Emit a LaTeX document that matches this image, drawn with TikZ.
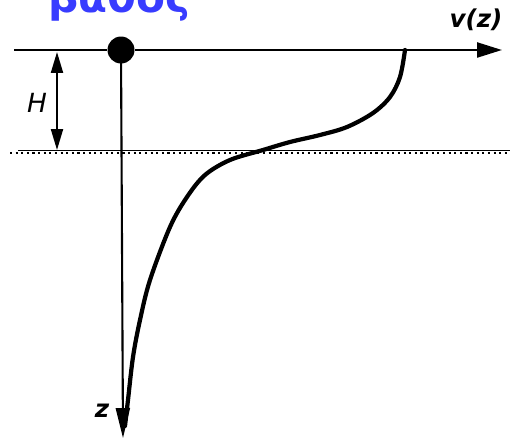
\documentclass[tikz,border=0pt]{standalone}
\usepackage{fontspec}
\usepackage{xcolor}
\usetikzlibrary{arrows.meta}
\newfontfamily\greekfont{DejaVu Sans}
\newfontfamily\labelfont{DejaVu Sans}
\definecolor{titleblue}{RGB}{56,60,255}

\begin{document}
\begin{tikzpicture}[
    x=0.02cm, y=-0.02cm,
    axis line/.style = {line width=1.3pt, -{Triangle[length=0.5cm, width=0.3cm]}},
    profile/.style = {line width=2.4pt, line cap=round},
    label text/.style = {font=\labelfont\itshape\bfseries\fontsize{14}{16}\selectfont, inner sep=0pt}
]
\useasboundingbox (0,0) rectangle (510,439);
\clip (0,0) rectangle (510,439);

% Titel (oben abgeschnitten)
\node[font=\greekfont\bfseries\fontsize{24}{28}\selectfont, text=titleblue, anchor=base west, inner sep=0pt] (title) at (48,13) {βάθος};

% --- Achsen ---
\coordinate (axisL) at (14,50);
\coordinate (axisR) at (502,50);
\coordinate (zTip) at (123,438);
\node[circle, fill=black, minimum size=0.54cm, inner sep=0pt] (src) at (121,50) {};
\draw[line width=1.3pt] (axisL) -- (src);
\draw[axis line] (src) -- (axisR);
\draw[line width=1.2pt, -{Triangle[length=0.6cm, width=0.28cm]}] (src.center) -- (zTip);

% Grenzschicht
\coordinate (layerL) at (10,153);
\coordinate (layerR) at (510,153);
\draw[line width=0.5pt] (18,150) -- (510,150);
\draw[line width=1.2pt, dotted] (layerL) -- (layerR);

% Höhe H
\coordinate (hTop) at (57,52);
\coordinate (hBot) at (57,150);
\draw[line width=1.2pt, {Triangle[length=0.42cm, width=0.24cm]}-{Triangle[length=0.42cm, width=0.24cm]}] (hTop) -- (hBot);
\node[label text, font=\labelfont\itshape\fontsize{15}{17}\selectfont] (hLabel) at (37,103) {H};

% Beschriftungen
\node[label text] (vLabel) at (476,20) {v(z)};
\node[label text] (zLabel) at (102,411) {z};

% --- Profil v(z) ---
\draw[profile] plot[smooth, tension=0.55] coordinates {
    (405,50) (400,77) (390,97) (373,113) (347,127) (320,135) (290,142)
    (263,150) (230,160) (205,175) (187,197) (170,227) (150,280)
    (140,320) (133,357) (128,400) (125,426)
};

\end{tikzpicture}
\end{document}
